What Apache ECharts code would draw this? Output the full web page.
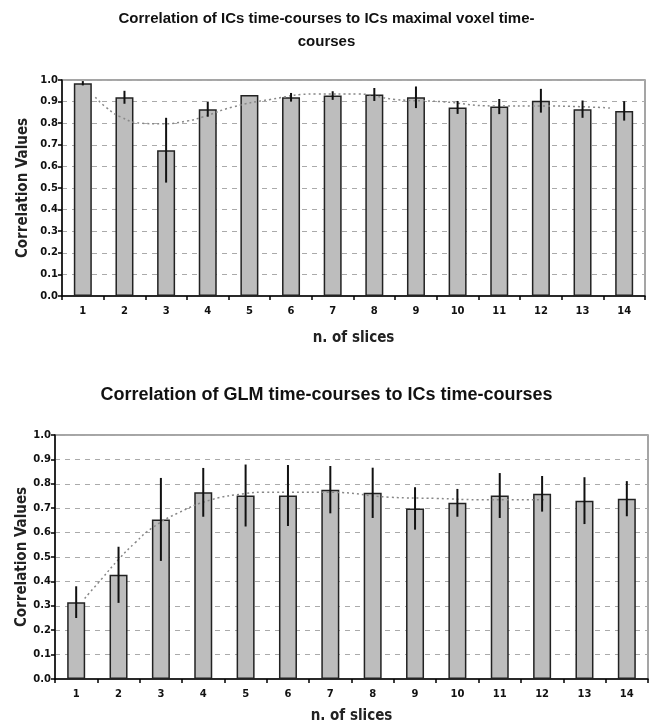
<!DOCTYPE html>
<html>
<head>
<meta charset="utf-8">
<script src="https://cdn.jsdelivr.net/npm/echarts@6/dist/echarts.min.js"></script>
<style>html,body{margin:0;padding:0;background:#fff;}#c{width:653px;height:725px;}</style>
</head>
<body>
<div id="c"></div>
<script>
const categories = ['1','2','3','4','5','6','7','8','9','10','11','12','13','14'];
const yTicks = ['0.0','0.1','0.2','0.3','0.4','0.5','0.6','0.7','0.8','0.9','1.0'];

const topValues = [0.985, 0.92, 0.675, 0.865, 0.93, 0.92, 0.928, 0.933, 0.92, 0.873, 0.877, 0.904, 0.865, 0.857];
const topErrors = [0.01, 0.03, 0.15, 0.035, 0.0, 0.02, 0.02, 0.03, 0.05, 0.03, 0.035, 0.055, 0.04, 0.045];
const topTrend = [[1.3,0.92],[1.55,0.875],[1.9,0.83],[2.4,0.80],[2.9,0.797],[3.5,0.81],[3.9,0.83],[4.6,0.875],[5.5,0.91],[6.6,0.935],[7.6,0.935],[8.5,0.91],[9.6,0.9],[10.9,0.88],[12,0.88],[13.7,0.87]];

const botValues = [0.315, 0.427, 0.654, 0.765, 0.752, 0.752, 0.776, 0.763, 0.699, 0.722, 0.752, 0.759, 0.731, 0.739];
const botErrors = [0.065, 0.115, 0.17, 0.10, 0.127, 0.125, 0.097, 0.103, 0.087, 0.057, 0.092, 0.073, 0.096, 0.072];
const botTrend = [[1.2,0.33],[1.6,0.41],[2.0,0.49],[2.4,0.56],[2.8,0.62],[3.4,0.68],[4.2,0.735],[5.0,0.76],[5.4,0.765],[7.0,0.765],[8.4,0.745],[9.5,0.74],[10.5,0.735],[12.1,0.735]];

const titleTop = 'Correlation of ICs time-courses to ICs maximal voxel time-\ncourses';
const titleBot = 'Correlation of GLM time-courses to ICs time-courses';
const xName = 'n. of slices';
const yName = 'Correlation Values';

const labelFont = {fontFamily:'DejaVu Sans', fontWeight:'bold', fontSize:10, color:'#111'};
const nameFont = {fontFamily:'DejaVu Sans Condensed, DejaVu Sans', fontWeight:'bold', fontSize:15, color:'#222'};

function catAxis(gi){
  return {type:'category', gridIndex:gi, data:categories, boundaryGap:true,
    axisLine:{lineStyle:{color:'#000', width:1.5}},
    axisTick:{show:true, length:4, alignWithLabel:false, lineStyle:{color:'#000', width:1.5}},
    axisLabel:Object.assign({margin:10}, labelFont),
    name:xName, nameLocation:'middle', nameGap:gi===0?35:30, nameTextStyle:nameFont,
    splitLine:{show:false}};
}
function hidAxis(gi){
  return {type:'value', gridIndex:gi, min:0.5, max:14.5, show:false};
}
function valAxis(gi){
  return {type:'value', gridIndex:gi, min:0, max:1, interval:0.1,
    axisLine:{show:true, lineStyle:{color:'#000', width:1.5}},
    axisTick:{show:true, length:4, lineStyle:{color:'#000', width:1.5}},
    axisLabel:Object.assign({margin:4, formatter:(v)=>yTicks[Math.round(v*10)]}, labelFont),
    splitLine:{show:true, lineStyle:{color:'#aaa', type:[5,5], width:1}},
    name:yName, nameLocation:'middle', nameMoveOverlap:false, nameGap:gi===0?31:25, nameRotate:90, nameTextStyle:nameFont};
}
function errSeries(xi, yi, vals, errs){
  return {type:'custom', xAxisIndex:xi, yAxisIndex:yi, z:5,
    data: vals.map((v,i)=>[i, v-errs[i], v+errs[i]]),
    renderItem:(params, api)=>{
      const p1 = api.coord([api.value(0), api.value(1)]);
      const p2 = api.coord([api.value(0), api.value(2)]);
      return {type:'line', shape:{x1:p1[0], y1:p1[1], x2:p2[0], y2:p2[1]}, style:{stroke:'#111', lineWidth:2}};
    }};
}
function barSeries(xi, yi, vals){
  return {type:'bar', xAxisIndex:xi, yAxisIndex:yi, data:vals, barWidth:18, z:2,
    itemStyle:{color:'#bdbdbd', borderColor:'#222', borderWidth:1.5}};
}
function trendSeries(xi, yi, pts){
  return {type:'line', xAxisIndex:xi, yAxisIndex:yi, data:pts, smooth:true, symbol:'none', z:4,
    lineStyle:{color:'#888', width:1.5, type:[2,3]}};
}

const chart = echarts.init(document.getElementById('c'), null, {renderer:'canvas'});
chart.setOption({
  backgroundColor:'#fff',
  animation:false,
  title:[
    {text:titleTop, left:'center', top:2, textStyle:{fontFamily:'Liberation Sans, Arial', fontWeight:'bold', fontSize:15, lineHeight:23, color:'#111'}},
    {text:titleBot, left:'center', top:381, textStyle:{fontFamily:'Liberation Sans, Arial', fontWeight:'bold', fontSize:18, color:'#111'}}
  ],
  grid:[
    {left:62, right:8, top:80, height:216, show:true, borderColor:'#888', borderWidth:1.5, backgroundColor:'transparent'},
    {left:55, right:5, top:435, height:246, show:true, borderColor:'#888', borderWidth:1.5, backgroundColor:'transparent'}
  ],
  xAxis:[catAxis(0), catAxis(1), hidAxis(0), hidAxis(1)],
  yAxis:[valAxis(0), valAxis(1)],
  series:[
    barSeries(0,0,topValues),
    errSeries(0,0,topValues,topErrors),
    trendSeries(2,0,topTrend),
    barSeries(1,1,botValues),
    errSeries(1,1,botValues,botErrors),
    trendSeries(3,1,botTrend)
  ]
});
</script>
</body>
</html>
